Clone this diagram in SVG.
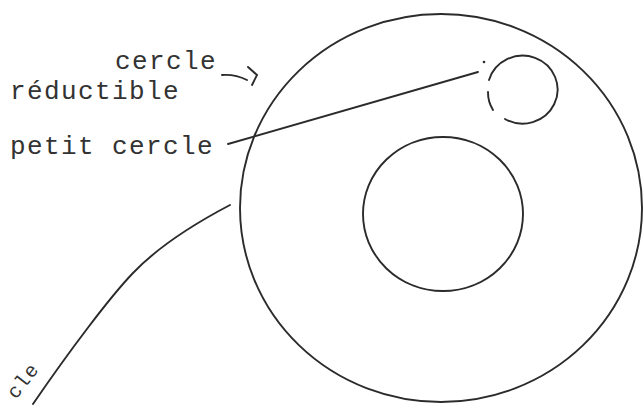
<svg xmlns="http://www.w3.org/2000/svg" width="644" height="408" viewBox="0 0 644 408">
<style>
.ln{fill:none;stroke:#2b2b2b;stroke-width:1.9;stroke-linecap:round}
.t{font-family:"Liberation Mono","DejaVu Sans Mono",monospace;font-size:26px;letter-spacing:1.4px;fill:#333}
</style>
<rect width="644" height="408" fill="#fff"/>
<g id="outer-circle"><ellipse class="ln" cx="441" cy="208" rx="201" ry="194"/></g>
<g id="inner-circle"><ellipse class="ln" cx="443" cy="214" rx="80" ry="77"/></g>
<g id="small-circle">
<path class="ln" d="M493,110 A35,34 0 0 1 488,92"/>
<path class="ln" d="M489,80 A35,34 0 1 1 505,119"/>
<circle cx="484" cy="62" r="1.3" fill="#2b2b2b"/>
</g>
<g id="labels">
<text class="t" x="115" y="69">cercle</text>
<text class="t" x="10" y="99">réductible</text>
<text class="t" x="10" y="154">petit cercle</text>
<text class="t" style="font-size:20px;letter-spacing:1px" transform="translate(16,400) rotate(-52)">cle</text>
</g>
<g id="connectors">
<path class="ln" d="M228,144 L478,72"/>
<path class="ln" d="M222,75 Q235,74 247,80"/>
<path class="ln" d="M248,67 L257,75 L252,85"/>
<path class="ln" d="M230,205 C190,226 155,250 133,273 C110,297 70,350 33,404"/>
</g>
</svg>
